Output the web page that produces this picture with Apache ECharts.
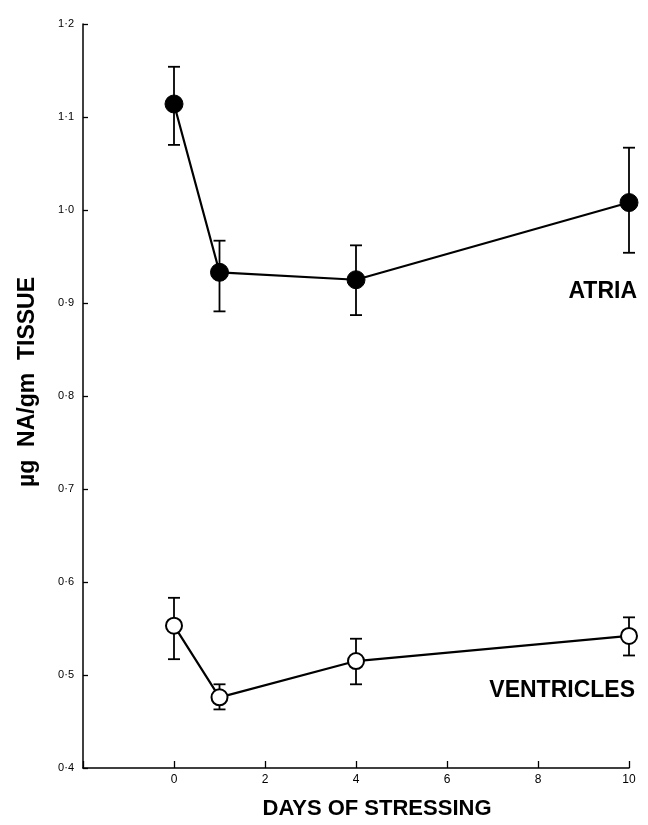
<!DOCTYPE html>
<html>
<head>
<meta charset="utf-8">
<script src="https://cdn.jsdelivr.net/npm/echarts@6/dist/echarts.min.js"></script>
<style>
html,body{margin:0;padding:0;background:#fff;}
#chart{width:648px;height:825px;}
</style>
</head>
<body>
<div id="chart"></div>
<script>
// ---- data ----
const days = [0, 1, 4, 10];
const atriaMean  = [1.114, 0.933, 0.925, 1.008];
const atriaUpper = [1.154, 0.967, 0.962, 1.067];
const atriaLower = [1.070, 0.891, 0.887, 0.954];
const ventMean   = [0.553, 0.476, 0.515, 0.542];
const ventUpper  = [0.583, 0.490, 0.539, 0.562];
const ventLower  = [0.517, 0.463, 0.490, 0.521];
const xTicks = [0, 2, 4, 6, 8, 10];
const yTicks = [0.4, 0.5, 0.6, 0.7, 0.8, 0.9, 1.0, 1.1, 1.2];
const seriesLabels = ['ATRIA', 'VENTRICLES'];
const xTitle = 'DAYS OF STRESSING';
const yTitle = 'µg  NA/gm  TISSUE';

const FONT = '"Liberation Sans", Arial, Helvetica, sans-serif';

function errData(lo, hi) { return days.map((d, i) => [d, lo[i], hi[i]]); }
function pts(v) { return days.map((d, i) => [d, v[i]]); }

function errRender(params, api) {
  const x = api.value(0);
  const lo = api.coord([x, api.value(1)]);
  const hi = api.coord([x, api.value(2)]);
  const w = 6;
  const st = { stroke: '#000', lineWidth: 1.8 };
  return {
    type: 'group',
    children: [
      { type: 'line', shape: { x1: hi[0], y1: hi[1], x2: lo[0], y2: lo[1] }, style: st },
      { type: 'line', shape: { x1: hi[0] - w, y1: hi[1], x2: hi[0] + w, y2: hi[1] }, style: st },
      { type: 'line', shape: { x1: lo[0] - w, y1: lo[1], x2: lo[0] + w, y2: lo[1] }, style: st }
    ]
  };
}

const chart = echarts.init(document.getElementById('chart'), null, { renderer: 'canvas' });
chart.setOption({
  animation: false,
  backgroundColor: '#fff',
  grid: { left: 83, right: 19, top: 24, bottom: 57, containLabel: false },
  xAxis: {
    type: 'value', min: -2, max: 10, interval: 2,
    axisLine: { show: true, onZero: false, lineStyle: { color: '#000', width: 1.5 } },
    axisTick: { show: true, inside: true, length: 7, lineStyle: { color: '#000', width: 1.3 } },
    splitLine: { show: false },
    axisLabel: {
      color: '#000', fontSize: 12, fontFamily: FONT, margin: 6,
      formatter: v => (xTicks.indexOf(v) >= 0 ? String(v) : '')
    },
    name: xTitle, nameLocation: 'middle', nameGap: 30,
    nameTextStyle: { color: '#000', fontSize: 22, fontWeight: 'bold', fontFamily: FONT, padding: [0, 0, 0, 42] }
  },
  yAxis: {
    type: 'value', min: 0.4, max: 1.2, interval: 0.1,
    axisLine: { show: true, onZero: false, lineStyle: { color: '#000', width: 1.5 } },
    axisTick: { show: true, inside: true, length: 5, lineStyle: { color: '#000', width: 1.3 } },
    splitLine: { show: false },
    axisLabel: {
      color: '#000', fontSize: 11, fontFamily: FONT, margin: 9,
      formatter: v => {
        const t = yTicks.find(y => Math.abs(y - v) < 1e-6);
        return t === undefined ? '' : t.toFixed(1).replace('.', '·');
      }
    },
    name: yTitle, nameLocation: 'middle', nameGap: 44,
    nameTextStyle: { color: '#000', fontSize: 23, fontWeight: 'bold', fontFamily: FONT, padding: [0, 0, 0, 28] }
  },
  series: [
    {
      type: 'custom', name: 'atriaErr', renderItem: errRender, data: errData(atriaLower, atriaUpper),
      encode: { x: 0, y: [1, 2] }, z: 1, silent: true
    },
    {
      type: 'custom', name: 'ventErr', renderItem: errRender, data: errData(ventLower, ventUpper),
      encode: { x: 0, y: [1, 2] }, z: 1, silent: true
    },
    {
      type: 'line', name: seriesLabels[0], data: pts(atriaMean), z: 3,
      symbol: 'circle', symbolSize: 18, showAllSymbol: true,
      lineStyle: { color: '#000', width: 2.2 },
      itemStyle: { color: '#000', borderColor: '#000', borderWidth: 1 }
    },
    {
      type: 'line', name: seriesLabels[1], data: pts(ventMean), z: 3,
      symbol: 'circle', symbolSize: 16, showAllSymbol: true,
      lineStyle: { color: '#000', width: 2.2 },
      itemStyle: { color: '#fff', borderColor: '#000', borderWidth: 2 }
    }
  ],
  graphic: [
    { type: 'text', right: 11, top: 280,
      style: { text: seriesLabels[0], fill: '#000', font: 'bold 23px ' + FONT } },
    { type: 'text', right: 13, top: 679,
      style: { text: seriesLabels[1], fill: '#000', font: 'bold 23px ' + FONT } }
  ]
});
</script>
</body>
</html>
